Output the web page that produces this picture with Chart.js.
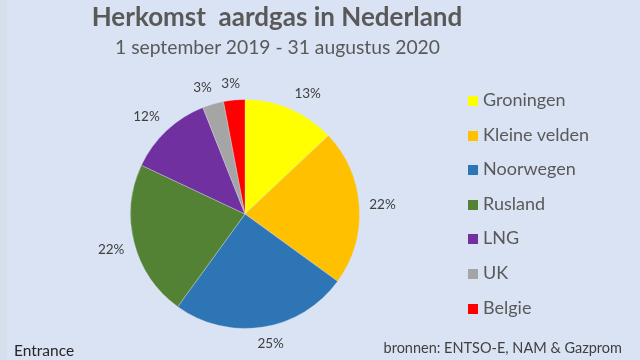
<!DOCTYPE html>
<html><head><meta charset="utf-8">
<script src="https://cdn.jsdelivr.net/npm/chart.js@4/dist/chart.umd.min.js"></script>
<style>
html,body{margin:0;padding:0;background:#DAE3F3;}
#wrap{position:relative;width:640px;height:360px;overflow:hidden;background:#DAE3F3;font-family:Lato,'Open Sans',sans-serif;}
#edge{position:absolute;left:0;top:0;width:7px;height:360px;background:#D6DEEC;}
#c{position:absolute;left:0;top:0;}
.t{position:absolute;white-space:nowrap;line-height:1;}
.lg{position:absolute;left:468px;white-space:nowrap;font-size:18px;color:#595959;line-height:18px;height:18px;}
.lg span.b{display:inline-block;width:10px;height:10px;margin-right:5px;vertical-align:0px;}
</style></head><body>
<div id="wrap">
<div id="edge"></div>
<canvas id="c" width="640" height="360" style="width:640px;height:360px"></canvas>
<div class="t" id="title" style="left:0;width:554px;text-align:center;top:3px;font-size:26px;font-weight:bold;color:#595959">Herkomst&nbsp; aardgas in Nederland</div>
<div class="t" id="sub" style="left:0;width:555px;text-align:center;top:37px;font-size:19.3px;color:#595959">1 september 2019 - 31 augustus 2020</div>
<div class="t" style="left:14px;top:343px;font-size:15.5px;color:#262626">Entrance</div>
<div class="t" style="right:18px;top:341px;font-size:14.5px;color:#404040">bronnen: ENTSO-E, NAM &amp; Gazprom</div>
<div id="legend"></div>
</div>
<script>
const categories = ["Groningen","Kleine velden","Noorwegen","Rusland","LNG","UK","Belgie"];
const shares = [13, 22, 25, 22, 12, 3, 3];
const colors = ["#FFFF00","#FFC000","#2E75B6","#548235","#7030A0","#A5A5A5","#FF0000"];

// legend (HTML, from arrays)
const lg = document.getElementById('legend');
categories.forEach((c,i)=>{
  const d = document.createElement('div');
  d.className='lg';
  d.style.top = (90 + i*34.6) + 'px';
  d.innerHTML = '<span class="b" style="background:'+colors[i]+'"></span>'+c;
  lg.appendChild(d);
});

const pctLabels = {
  id:'pctLabels',
  afterDatasetsDraw(chart){
    const ctx = chart.ctx;
    const meta = chart.getDatasetMeta(0);
    const data = chart.data.datasets[0].data;
    const total = data.reduce((a,b)=>a+b,0);
    ctx.save();
    ctx.font = '13.5px Lato, "Open Sans", sans-serif';
    ctx.fillStyle = '#404040';
    ctx.textAlign='center';
    ctx.textBaseline='middle';
    const cl = v => Math.max(-1, Math.min(1, v));
    meta.data.forEach((arc,i)=>{
      const p = arc.getProps(['x','y','startAngle','endAngle','outerRadius'],true);
      const mid = (p.startAngle+p.endAngle)/2;
      const dx = Math.cos(mid), dy = Math.sin(mid);
      const txt = Math.round(data[i]/total*100)+'%';
      const w = ctx.measureText(txt).width, h = 13;
      const r = p.outerRadius + 10;
      const x = p.x + dx*r + cl(dx*3)*w/2;
      const y = p.y + dy*r + cl(dy*3)*h/2;
      ctx.fillText(txt, x, y);
    });
    ctx.restore();
  }
};

new Chart(document.getElementById('c'), {
  type:'pie',
  data:{labels:categories, datasets:[{data:shares, backgroundColor:colors, borderWidth:1, borderColor:'rgba(218,227,243,0.35)'}]},
  options:{
    responsive:false, animation:false,
    layout:{padding:{left:130,right:280,top:99,bottom:31}},
    plugins:{legend:{display:false}, tooltip:{enabled:false}, title:{display:false}}
  },
  plugins:[pctLabels]
});
</script>
</body></html>
